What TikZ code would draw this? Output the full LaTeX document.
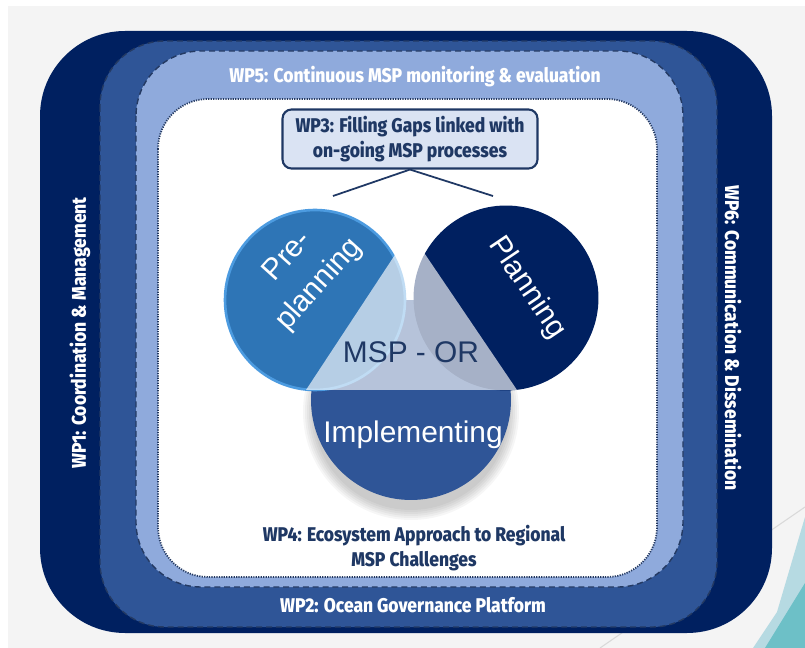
\documentclass[tikz,border=0pt]{standalone}
\usepackage{fontspec}
\setmainfont{Liberation Sans}
\newfontfamily\wpfont[FakeStretch=0.88,BoldFont={Fira Sans ExtraBold}]{Fira Sans}
\usetikzlibrary{positioning}

\definecolor{navyblue}{HTML}{002060}
\definecolor{midblue}{HTML}{2F5597}
\definecolor{lightblue}{HTML}{8FAADC}
\definecolor{preblue}{HTML}{2E75B6}
\definecolor{rimblue}{HTML}{4C9BE0}
\definecolor{edgeblue}{HTML}{243A63}
\definecolor{boxfill}{HTML}{DAE3F3}
\definecolor{wptext}{HTML}{1F3864}
\definecolor{bggray}{HTML}{F4F4F4}
\definecolor{tealA}{HTML}{B6DAE2}
\definecolor{tealB}{HTML}{6DC0C7}

\begin{document}
\begin{tikzpicture}[x=0.02cm,y=-0.02cm,
    wplabel/.style={font=\wpfont\bfseries\fontsize{11.3}{13.8}\selectfont,text=white,inner sep=0pt},
    wpdark/.style={wplabel,text=wptext,align=center},
    layeredge/.style={draw=edgeblue,line width=0.8pt,dash pattern=on 3.4pt off 2.2pt},
    phase/.style={circle,inner sep=0pt,minimum size=#1},
    phasetext/.style={font=\fontsize{17}{24}\selectfont,text=white,align=center,inner sep=0pt}]
  \useasboundingbox[fill=white] (0,0) rectangle (805,648);
  \fill[bggray] (8,6) rectangle (805,648);
  \draw[black!15,line width=0.6pt] (600,648) -- (805,507);
  \fill[tealA] (805,517) -- (777,612) -- (753,648) -- (805,648) -- cycle;
  \fill[tealB] (805,583) -- (765,648) -- (805,648) -- cycle;

  \fill[navyblue,rounded corners=1.7cm] (40,31) rectangle (772,633);
  \path[fill=midblue,layeredge,rounded corners=1.3cm] (100,41) rectangle (717,627);
  \path[fill=lightblue,layeredge,rounded corners=1.3cm] (136,51) rectangle (683,587);
  \path[fill=white,draw=edgeblue,line width=1pt,dash pattern=on 0.7pt off 0.7pt,rounded corners=1cm] (158,99) rectangle (657,577);

  \node[wplabel] (wp5) at (415,77) {WP5: Continuous MSP monitoring \& evaluation};
  \node[wplabel] (wp2) at (413,605) {WP2: Ocean Governance Platform};
  \node[wplabel,rotate=90] (wp1) at (80,333) {WP1: Coordination \& Management};
  \node[wplabel,rotate=-90] (wp6) at (733,338) {WP6: Communication \& Dissemination};
  \node[wpdark] (wp4) at (414,548) {WP4: Ecosystem Approach to Regional\\MSP Challenges};

  \node[wpdark,draw=wptext,fill=boxfill,line width=1.2pt,rounded corners=0.18cm,
        minimum width=5.1cm,minimum height=1.18cm] (wp3) at (410,139)
        {WP3: Filling Gaps linked with\\on-going MSP processes};
  \coordinate (prefoot) at (333,196);
  \coordinate (planfoot) at (493,196);
  \draw[wptext,line width=1pt] (prefoot) -- (wp3.south) -- (planfoot);

  \foreach \s in {0,2,...,10}
    \fill[black,opacity=0.035] (411,412) circle ({98+\s});
  \node[phase=4cm,fill=midblue] (impl) at (411,400) {};
  \node[phase=3.6cm,fill=preblue,draw=rimblue,line width=1.5pt] (preplan) at (315,300) {};
  \node[phase=3.7cm,fill=navyblue] (plan) at (506,298) {};
  \fill[white,opacity=0.65] (410,232) -- (306,390) -- (517,390) -- cycle;

  \node[phasetext,rotate=48] (pretext) at (304,271) {Pre-\\planning};
  \node[phasetext,rotate=-56] (plantext) at (527,288) {Planning};
  \node[phasetext] (impltext) at (413,435) {Implementing};
  \node[phasetext,text=wptext] (msp) at (411,352) {MSP - OR};
\end{tikzpicture}
\end{document}
